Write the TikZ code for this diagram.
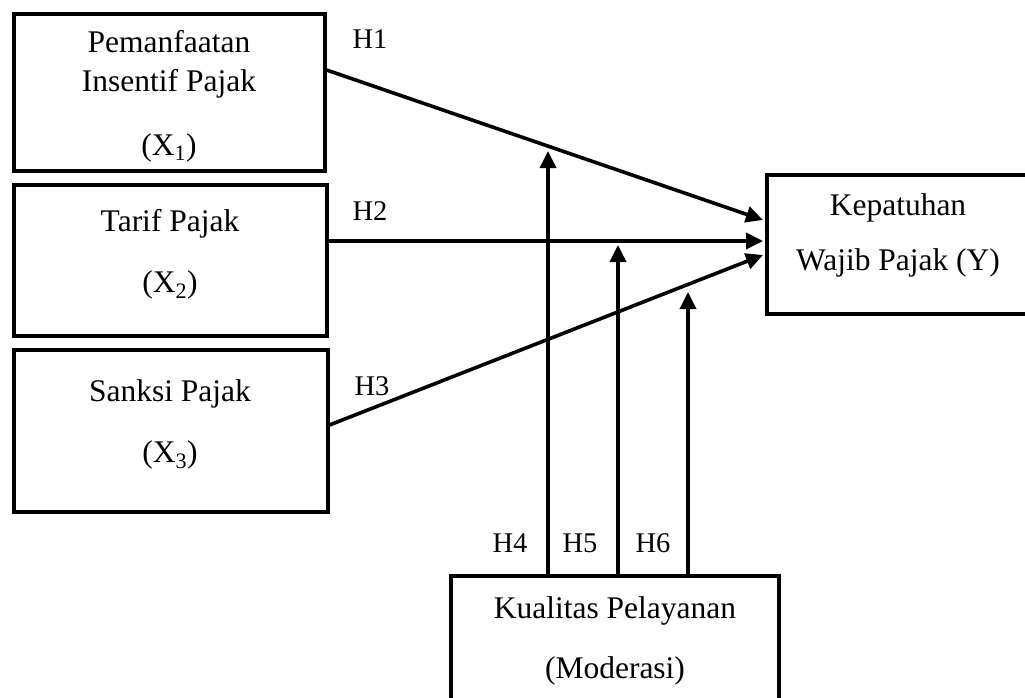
\documentclass[tikz,border=0pt]{standalone}
\usepackage{fontspec}
\setmainfont{Liberation Serif}
\usetikzlibrary{arrows.meta}
\tikzset{
  box/.style={draw, line width=4pt, rectangle, inner sep=0pt},
  btxt/.style={anchor=base, inner sep=0pt, font=\fontsize{31.5}{36}\selectfont},
  hlab/.style={anchor=base, inner sep=0pt, font=\fontsize{28.5}{32}\selectfont},
  arr/.style={line width=3.6pt, -{Triangle[length=17pt,width=16pt]}},
}
\begin{document}
\begin{tikzpicture}[x=1pt,y=-1pt]
\useasboundingbox (0,0) rectangle (1025,698);
% boxes
\node[box, minimum width=311pt, minimum height=157pt] (x1) at (169,92.5) {};
\node[box, minimum width=313pt, minimum height=151pt] (x2) at (170,260) {};
\node[box, minimum width=314pt, minimum height=162pt] (x3) at (170.5,430.5) {};
\node[box, minimum width=265pt, minimum height=139pt] (y) at (899.5,244.5) {};
\node[box, minimum width=328pt, minimum height=135pt] (mod) at (615,643.5) {};
% box texts
\node[btxt] (t1a) at (169,53) {Pemanfaatan};
\node[btxt] (t1b) at (169,92) {Insentif Pajak};
\node[btxt] (t1c) at (169,155) {(X\textsubscript{1})};
\node[btxt] (t2a) at (170,231) {Tarif Pajak};
\node[btxt] (t2b) at (170,292) {(X\textsubscript{2})};
\node[btxt] (t3a) at (170,401) {Sanksi Pajak};
\node[btxt] (t3b) at (170,462) {(X\textsubscript{3})};
\node[btxt] (tya) at (898,215) {Kepatuhan};
\node[btxt] (tyb) at (898,270) {Wajib Pajak (Y)};
\node[btxt] (tma) at (615,618) {Kualitas Pelayanan};
\node[btxt] (tmb) at (615,678) {(Moderasi)};
% hypothesis labels
\node[hlab] (h1) at (370,49) {H1};
\node[hlab] (h2) at (370,220) {H2};
\node[hlab] (h3) at (372,395) {H3};
\node[hlab] (h4) at (510,552) {H4};
\node[hlab] (h5) at (580,552) {H5};
\node[hlab] (h6) at (653,552) {H6};
% connector coordinates
\coordinate (s1) at (0,70);
\coordinate (e1) at (0,220);
\coordinate (s2) at (0,241);
\coordinate (s3) at (0,425);
\coordinate (e3) at (0,255);
\coordinate (t4) at (548,151);
\coordinate (t5) at (618,245);
\coordinate (t6) at (688,292);
% main paths
\draw[arr] (x1.east |- s1) -- ([xshift=-2pt]y.west |- e1);
\draw[arr] (x2.east |- s2) -- ([xshift=-2pt]y.west |- s2);
\draw[arr] (x3.east |- s3) -- ([xshift=-2pt]y.west |- e3);
% moderating paths
\draw[arr] (mod.north -| t4) -- (t4);
\draw[arr] (mod.north -| t5) -- (t5);
\draw[arr] (mod.north -| t6) -- (t6);
\end{tikzpicture}
\end{document}
